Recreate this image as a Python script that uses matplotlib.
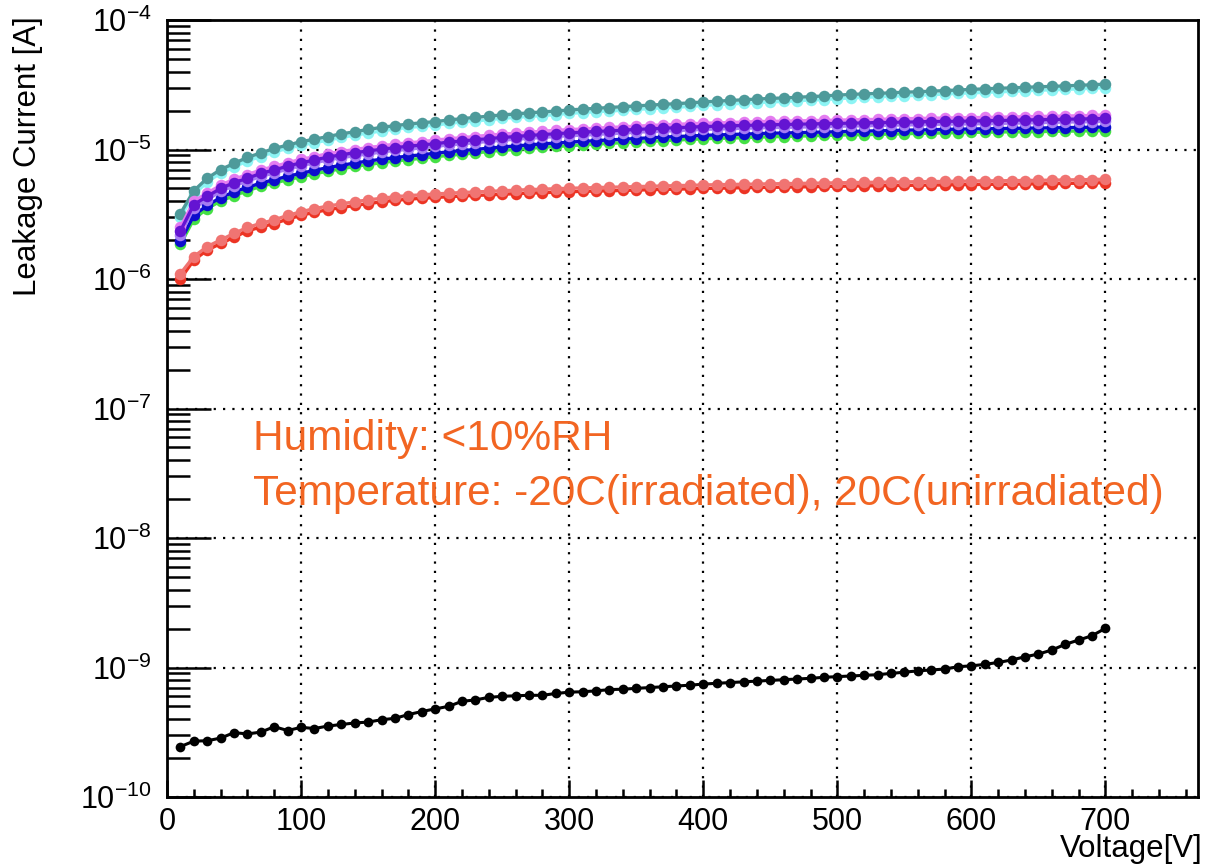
"""
Leakage current vs voltage (log scale)
"""
import matplotlib.pyplot as plt
import numpy as np
from matplotlib.ticker import LogLocator, NullFormatter, MultipleLocator

plt.rcParams['font.family'] = ['Liberation Sans', 'DejaVu Sans']
plt.rcParams['mathtext.fontset'] = 'custom'
plt.rcParams['mathtext.rm'] = 'Liberation Sans'
plt.rcParams['mathtext.it'] = 'Liberation Sans:italic'
plt.rcParams['mathtext.bf'] = 'Liberation Sans:bold'
plt.rcParams['mathtext.default'] = 'regular'

voltage = np.arange(10, 701, 10)

# irradiated samples, in uA
teal = [3.2, 4.8, 6.0, 7.0, 7.8, 8.7, 9.4, 10.2, 10.8, 11.5,
        12.0, 12.6, 13.2, 13.7, 14.3, 14.8, 15.3, 15.7, 16.1, 16.4,
        16.9, 17.3, 17.7, 18.1, 18.5, 18.8, 19.2, 19.5, 19.8, 20.2,
        20.5, 20.8, 21.1, 21.4, 21.7, 22.0, 22.3, 22.6, 22.9, 23.3,
        23.6, 23.9, 24.2, 24.5, 24.8, 25.0, 25.3, 25.6, 25.9, 26.3,
        26.6, 26.9, 27.1, 27.4, 27.7, 27.9, 28.2, 28.5, 28.8, 29.1,
        29.4, 29.7, 29.9, 30.2, 30.5, 30.7, 31.0, 31.3, 31.6, 32.0]
cyan = [3.0, 4.5, 5.6, 6.6, 7.3, 8.2, 8.8, 9.6, 10.2, 10.8,
        11.3, 11.8, 12.4, 12.9, 13.4, 13.9, 14.4, 14.8, 15.1, 15.4,
        15.9, 16.3, 16.6, 17.0, 17.4, 17.7, 18.0, 18.3, 18.6, 19.0,
        19.3, 19.6, 19.8, 20.1, 20.4, 20.7, 21.0, 21.2, 21.5, 21.9,
        22.2, 22.5, 22.7, 23.0, 23.3, 23.5, 23.8, 24.1, 24.3, 24.7,
        25.0, 25.3, 25.5, 25.8, 26.0, 26.2, 26.5, 26.8, 27.1, 27.4,
        27.6, 27.9, 28.1, 28.4, 28.7, 28.9, 29.1, 29.4, 29.7, 30.1]
magenta = [2.5, 4.0, 4.6, 5.3, 5.9, 6.4, 6.95, 7.4, 7.9, 8.4,
           8.8, 9.3, 9.65, 10.0, 10.35, 10.65, 11.0, 11.25, 11.5, 11.8,
           12.1, 12.35, 12.6, 12.9, 13.15, 13.35, 13.6, 13.85, 14.05, 14.25,
           14.4, 14.6, 14.8, 14.95, 15.15, 15.3, 15.5, 15.65, 15.8, 15.95,
           16.05, 16.15, 16.3, 16.4, 16.5, 16.55, 16.65, 16.7, 16.8, 16.85,
           16.95, 17.0, 17.1, 17.2, 17.3, 17.35, 17.45, 17.5, 17.55, 17.6,
           17.7, 17.75, 17.85, 17.9, 18.0, 18.05, 18.15, 18.2, 18.35, 18.5]
violet = [2.35, 3.75, 4.35, 5.0, 5.55, 6.0, 6.55, 6.95, 7.45, 7.9,
          8.3, 8.75, 9.1, 9.45, 9.75, 10.05, 10.35, 10.6, 10.85, 11.1,
          11.4, 11.65, 11.9, 12.15, 12.4, 12.6, 12.85, 13.05, 13.25, 13.45,
          13.6, 13.8, 13.95, 14.1, 14.3, 14.45, 14.6, 14.75, 14.9, 15.05,
          15.15, 15.25, 15.35, 15.45, 15.55, 15.6, 15.7, 15.75, 15.85, 15.9,
          16.0, 16.05, 16.15, 16.2, 16.3, 16.35, 16.45, 16.5, 16.55, 16.6,
          16.7, 16.75, 16.85, 16.9, 17.0, 17.05, 17.15, 17.2, 17.3, 17.4]
lavender = [2.2, 3.55, 4.1, 4.75, 5.25, 5.7, 6.2, 6.6, 7.05, 7.5,
            7.9, 8.3, 8.65, 8.95, 9.25, 9.55, 9.85, 10.05, 10.3, 10.55,
            10.85, 11.05, 11.3, 11.55, 11.8, 12.0, 12.2, 12.4, 12.6, 12.8,
            12.9, 13.1, 13.25, 13.4, 13.6, 13.75, 13.85, 14.0, 14.15, 14.3,
            14.4, 14.5, 14.6, 14.7, 14.8, 14.8, 14.9, 14.95, 15.05, 15.1,
            15.2, 15.25, 15.35, 15.4, 15.5, 15.55, 15.65, 15.7, 15.75, 15.8,
            15.85, 15.9, 16.0, 16.05, 16.15, 16.2, 16.3, 16.35, 16.45, 16.5]
blue = [1.95, 3.1, 3.7, 4.25, 4.7, 5.1, 5.5, 5.85, 6.2, 6.55,
        6.9, 7.25, 7.55, 7.85, 8.15, 8.4, 8.65, 8.9, 9.1, 9.35,
        9.6, 9.8, 10.0, 10.25, 10.45, 10.65, 10.85, 11.05, 11.2, 11.4,
        11.55, 11.7, 11.85, 12.0, 12.15, 12.3, 12.45, 12.6, 12.7, 12.85,
        12.95, 13.05, 13.15, 13.25, 13.35, 13.4, 13.5, 13.55, 13.65, 13.7,
        13.8, 13.85, 13.95, 14.0, 14.1, 14.15, 14.2, 14.3, 14.35, 14.4,
        14.45, 14.5, 14.55, 14.6, 14.65, 14.7, 14.75, 14.8, 14.85, 14.9]
green = [1.85, 2.9, 3.5, 4.0, 4.4, 4.8, 5.2, 5.5, 5.85, 6.15,
         6.5, 6.8, 7.1, 7.4, 7.65, 7.9, 8.15, 8.35, 8.55, 8.8,
         9.0, 9.2, 9.4, 9.65, 9.85, 10.0, 10.2, 10.4, 10.55, 10.7,
         10.85, 11.0, 11.15, 11.3, 11.4, 11.55, 11.7, 11.85, 11.95, 12.1,
         12.2, 12.25, 12.35, 12.45, 12.55, 12.6, 12.7, 12.75, 12.85, 12.9,
         13.0, 13.0, 13.1, 13.15, 13.25, 13.3, 13.35, 13.45, 13.5, 13.55,
         13.6, 13.65, 13.7, 13.7, 13.75, 13.8, 13.85, 13.9, 13.95, 14.0]
salmon = [1.1, 1.49, 1.78, 2.0, 2.25, 2.5, 2.69, 2.86, 3.1, 3.3,
          3.5, 3.65, 3.8, 3.95, 4.08, 4.2, 4.32, 4.4, 4.47, 4.53,
          4.6, 4.65, 4.7, 4.75, 4.8, 4.85, 4.9, 4.94, 4.98, 5.02,
          5.05, 5.08, 5.11, 5.14, 5.17, 5.2, 5.23, 5.26, 5.29, 5.32,
          5.35, 5.37, 5.39, 5.41, 5.43, 5.45, 5.47, 5.49, 5.51, 5.53,
          5.55, 5.57, 5.59, 5.6, 5.62, 5.64, 5.65, 5.67, 5.69, 5.7,
          5.72, 5.73, 5.75, 5.76, 5.78, 5.8, 5.82, 5.84, 5.86, 5.9]
red = [1.0, 1.4, 1.67, 1.88, 2.1, 2.35, 2.52, 2.68, 2.9, 3.1,
       3.28, 3.42, 3.56, 3.7, 3.82, 3.94, 4.05, 4.13, 4.2, 4.26,
       4.32, 4.37, 4.42, 4.46, 4.51, 4.56, 4.6, 4.64, 4.68, 4.72,
       4.75, 4.78, 4.8, 4.83, 4.86, 4.89, 4.92, 4.94, 4.97, 5.0,
       5.02, 5.05, 5.07, 5.09, 5.1, 5.12, 5.14, 5.16, 5.18, 5.2,
       5.22, 5.24, 5.25, 5.27, 5.28, 5.3, 5.31, 5.33, 5.35, 5.36,
       5.38, 5.39, 5.4, 5.42, 5.43, 5.45, 5.47, 5.49, 5.51, 5.55]

# unirradiated sample, in 1e-10 A
unirr = [2.45, 2.7, 2.72, 2.85, 3.14, 3.07, 3.17, 3.49, 3.26, 3.45,
         3.38, 3.53, 3.63, 3.73, 3.79, 3.95, 4.05, 4.33, 4.57, 4.79,
         5.01, 5.48, 5.62, 5.88, 5.99, 6.05, 6.1, 6.1, 6.3, 6.45,
         6.5, 6.6, 6.75, 6.8, 6.9, 7.0, 7.1, 7.2, 7.3, 7.45,
         7.55, 7.65, 7.75, 7.85, 7.95, 8.05, 8.15, 8.25, 8.4, 8.5,
         8.6, 8.7, 8.8, 9.0, 9.2, 9.42, 9.57, 9.73, 10.14, 10.3,
         10.57, 10.94, 11.43, 12.1, 12.7, 13.65, 15.1, 16.3, 17.6, 20.1]

series = [
    (cyan, '#8cf4f4'), (teal, '#4e9a9a'),
    (green, '#44e044'), (blue, '#0c0ccc'), (lavender, '#a57cf2'),
    (magenta, '#e47cf0'), (violet, '#6414d2'),
    (red, '#ec3424'), (salmon, '#f07472'),
]

fig = plt.figure(figsize=(12.07, 8.65), dpi=100)
ax = fig.add_axes([167 / 1207, 1 - 797 / 865, 1031 / 1207, 777 / 865])

for vals, col in series:
    ax.plot(voltage, np.array(vals) * 1e-6, '-o', color=col, lw=2.4,
            ms=8.3, mec='none', zorder=3)
ax.plot(voltage, np.array(unirr) * 1e-10, '-o', color='black', lw=2.2,
        ms=7, mec='none', zorder=3)

ax.set_yscale('log')
ax.set_xlim(0, 769)
ax.set_ylim(1e-10, 1e-4)

ax.xaxis.set_major_locator(MultipleLocator(100))
ax.xaxis.set_minor_locator(MultipleLocator(20))
ax.yaxis.set_major_locator(LogLocator(base=10, numticks=10))
ax.yaxis.set_minor_locator(LogLocator(base=10, subs=np.arange(2, 10), numticks=100))
ax.yaxis.set_minor_formatter(NullFormatter())

ax.tick_params(axis='both', which='both', direction='in', width=1.8,
               top=False, right=False, labelsize=22, colors='black')
ax.tick_params(axis='y', which='major', length=32, pad=11)
ax.tick_params(axis='y', which='minor', length=16.5)
ax.tick_params(axis='x', which='major', length=12, pad=7)
ax.tick_params(axis='x', which='minor', length=6)

for sp in ax.spines.values():
    sp.set_linewidth(2)

ax.grid(True, which='major', color='black', linestyle=(0, (1, 3.2)), linewidth=1.6)
ax.set_axisbelow(True)

# axis titles placed ROOT-style at the ends of the axes
ax.xaxis.label.set_visible(False)
ax.yaxis.label.set_visible(False)
fig.text(28.5 / 1207, 1 - 16 / 865, 'Leakage Current [A]', rotation=90,
         ha='center', va='top', fontsize=22.5)
fig.text(1203 / 1207, 1 - 857 / 865, 'Voltage[V]', ha='right', va='baseline',
         fontsize=22.5)

orange = '#f26522'
fig.text(253 / 1207, 1 - 450 / 865, 'Humidity: <10%RH', color=orange,
         fontsize=30.5, va='baseline')
fig.text(253 / 1207, 1 - 505 / 865,
         'Temperature: -20C(irradiated), 20C(unirradiated)', color=orange,
         fontsize=30.5, va='baseline')

fig.savefig('out.png', dpi=100)
